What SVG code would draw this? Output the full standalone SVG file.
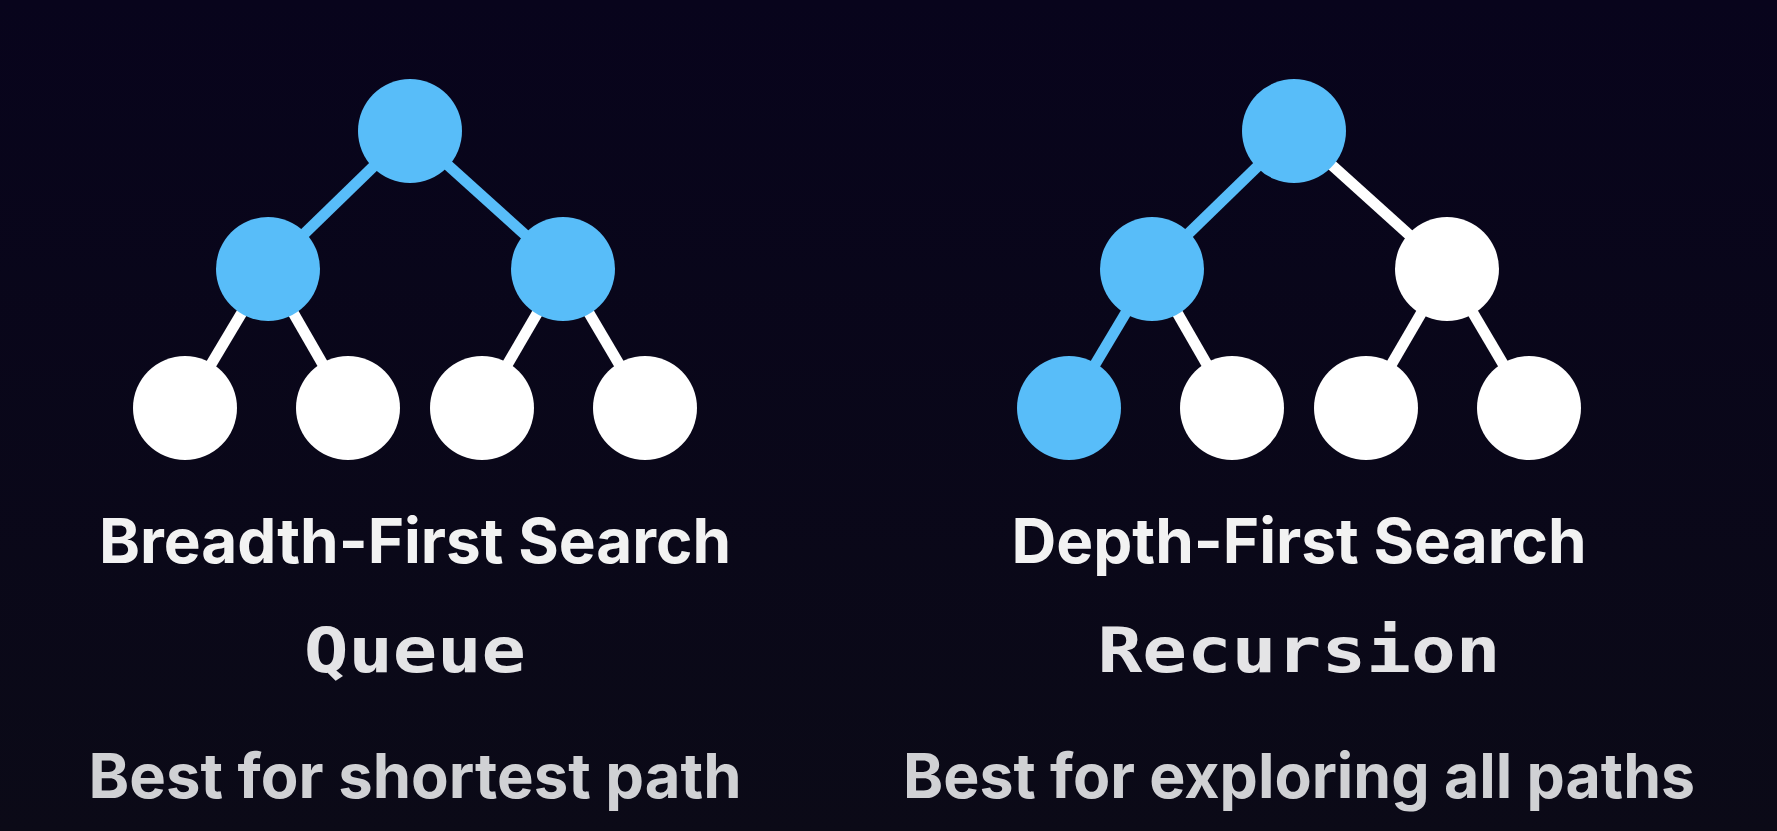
<svg xmlns="http://www.w3.org/2000/svg" width="1777" height="831" viewBox="0 0 1777 831">
  <defs>
    <linearGradient id="bg" x1="0" y1="0" x2="0" y2="1">
      <stop offset="0" stop-color="#08041c"/>
      <stop offset="1" stop-color="#0b0a17"/>
    </linearGradient>
    <style>
      .edge { stroke-width: 11; stroke-linecap: butt; }
      .hot { stroke: #58bdf9; }
      .cold { stroke: #ffffff; }
      .on { fill: #58bdf9; }
      .off { fill: #ffffff; }
      .title { font-family: Inter, "Liberation Sans", sans-serif; font-weight: 700; font-size: 62px; fill: #f2f2f2; text-anchor: middle; }
      .code { font-family: "DejaVu Sans Mono", "Liberation Mono", monospace; font-weight: 700; font-size: 62px; fill: #e4e4e6; text-anchor: middle; }
      .note { font-family: Inter, "Liberation Sans", sans-serif; font-weight: 700; font-size: 62px; fill: #d0d1d4; text-anchor: middle; }
    </style>
  </defs>

  <rect width="1777" height="831" fill="url(#bg)"/>

  <!-- connectors -->
  <g id="connectors">
    <!-- breadth-first tree -->
    <line class="edge hot" x1="410" y1="131" x2="268" y2="269"/>
    <line class="edge hot" x1="410" y1="131" x2="563" y2="269"/>
    <line class="edge cold" x1="268" y1="269" x2="185" y2="408"/>
    <line class="edge cold" x1="268" y1="269" x2="348" y2="408"/>
    <line class="edge cold" x1="563" y1="269" x2="482" y2="408"/>
    <line class="edge cold" x1="563" y1="269" x2="645" y2="408"/>
    <!-- depth-first tree -->
    <line class="edge hot" x1="1294" y1="131" x2="1152" y2="269"/>
    <line class="edge cold" x1="1294" y1="131" x2="1447" y2="269"/>
    <line class="edge hot" x1="1152" y1="269" x2="1069" y2="408"/>
    <line class="edge cold" x1="1152" y1="269" x2="1232" y2="408"/>
    <line class="edge cold" x1="1447" y1="269" x2="1366" y2="408"/>
    <line class="edge cold" x1="1447" y1="269" x2="1529" y2="408"/>
  </g>

  <!-- breadth-first tree nodes -->
  <g id="bfs-root"><circle class="on" cx="410" cy="131" r="52"/></g>
  <g id="bfs-l"><circle class="on" cx="268" cy="269" r="52"/></g>
  <g id="bfs-r"><circle class="on" cx="563" cy="269" r="52"/></g>
  <g id="bfs-ll"><circle class="off" cx="185" cy="408" r="52"/></g>
  <g id="bfs-lr"><circle class="off" cx="348" cy="408" r="52"/></g>
  <g id="bfs-rl"><circle class="off" cx="482" cy="408" r="52"/></g>
  <g id="bfs-rr"><circle class="off" cx="645" cy="408" r="52"/></g>

  <!-- depth-first tree nodes -->
  <g id="dfs-root"><circle class="on" cx="1294" cy="131" r="52"/></g>
  <g id="dfs-l"><circle class="on" cx="1152" cy="269" r="52"/></g>
  <g id="dfs-r"><circle class="off" cx="1447" cy="269" r="52"/></g>
  <g id="dfs-ll"><circle class="on" cx="1069" cy="408" r="52"/></g>
  <g id="dfs-lr"><circle class="off" cx="1232" cy="408" r="52"/></g>
  <g id="dfs-rl"><circle class="off" cx="1366" cy="408" r="52"/></g>
  <g id="dfs-rr"><circle class="off" cx="1529" cy="408" r="52"/></g>

  <!-- captions -->
  <g id="bfs-caption">
    <text class="title" x="415" y="563" textLength="632" lengthAdjust="spacingAndGlyphs">Breadth-First Search</text>
    <text class="code" x="415" y="672" textLength="222" lengthAdjust="spacingAndGlyphs">Queue</text>
    <text class="note" x="415" y="798" textLength="653" lengthAdjust="spacingAndGlyphs">Best for shortest path</text>
  </g>
  <g id="dfs-caption">
    <text class="title" x="1299" y="563" textLength="575" lengthAdjust="spacingAndGlyphs">Depth-First Search</text>
    <text class="code" x="1299" y="672" textLength="403" lengthAdjust="spacingAndGlyphs">Recursion</text>
    <text class="note" x="1299" y="798" textLength="792" lengthAdjust="spacingAndGlyphs">Best for exploring all paths</text>
  </g>
</svg>
